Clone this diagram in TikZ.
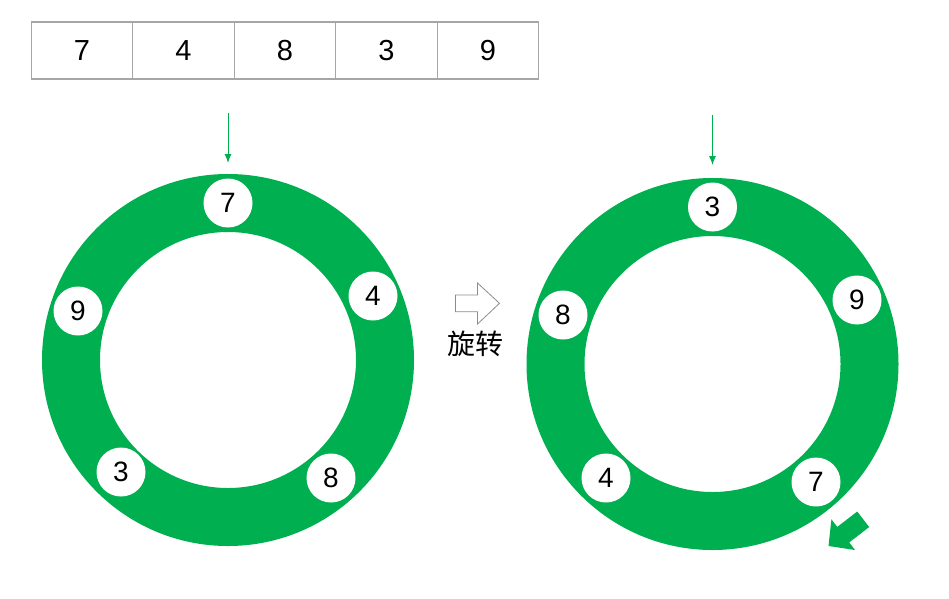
\documentclass[tikz,border=0pt]{standalone}
\usepackage{fontspec}
\setmainfont{Liberation Sans}
\newfontfamily\cjk{Noto Sans CJK SC}
\usepackage{tikz}
\usetikzlibrary{arrows.meta}
\usepackage{xcolor}
\definecolor{ringgreen}{HTML}{00B050}
\definecolor{cellgray}{HTML}{A6A6A6}
\definecolor{arrowgray}{HTML}{8C8C8C}

\tikzset{
  cell/.style={draw=cellgray, line width=1.2pt, minimum width=101.5pt, minimum height=57pt,
    inner sep=0pt, font=\fontsize{29}{29}\selectfont},
  slot/.style={circle, fill=white, minimum size=49pt, inner sep=0pt,
    font=\fontsize{28}{28}\selectfont},
  pointer/.style={ringgreen, line width=1pt, -{Latex[length=9pt,width=7pt]}}
}

\begin{document}
\begin{tikzpicture}[x=1pt,y=-1pt]
\useasboundingbox (0,0) rectangle (949,598);

% array
\node [cell] (a1) at (82,50.5) {7};
\node [cell] (a2) at (183.5,50.5) {4};
\node [cell] (a3) at (285,50.5) {8};
\node [cell] (a4) at (386.5,50.5) {3};
\node [cell] (a5) at (488,50.5) {9};

% ring before
\fill [ringgreen, even odd rule] (228,360) circle (186) (228,360) circle (128);
\begin{scope}[shift={(228,360)}]
\node [slot] (l7) at (0,-157) {7};
\node [slot] (l4) at (145,-64) {4};
\node [slot] (l9) at (-150,-49) {9};
\node [slot] (l3) at (-107,112) {3};
\node [slot] (l8) at (103,118) {8};
\end{scope}
\coordinate (pl0) at (228,113);
\coordinate (pl1) at (228,163);
\draw [pointer] (pl0) -- (pl1);

% rotate sign
\draw [arrowgray, fill=white, line width=0.8pt] (455.5,295) -- (477.5,295) -- (477.5,283)
  -- (499.5,303.3) -- (477.5,324) -- (477.5,311.7) -- (455.5,311.7) -- cycle;
\node [font=\cjk\fontsize{28}{28}\selectfont] (rot) at (475,344) {旋转};

% ring after
\fill [ringgreen, even odd rule] (712.5,364) circle (186) (712.5,364) circle (128);
\begin{scope}[shift={(712.5,364)}]
\node [slot] (r3) at (0,-157) {3};
\node [slot] (r9) at (144.5,-64) {9};
\node [slot] (r8) at (-149.5,-49) {8};
\node [slot] (r4) at (-106.5,114) {4};
\node [slot] (r7) at (103.5,118) {7};
\end{scope}
\coordinate (pr0) at (712.5,115);
\coordinate (pr1) at (712.5,165);
\draw [pointer] (pr0) -- (pr1);

% turn direction
\begin{scope}[shift={(828.5,546)}, rotate=37.6]
\fill [ringgreen] (0,0) -- (18.6,-19.4) -- (18.6,-9.8) -- (43.8,-9.8) -- (43.8,9.8)
  -- (18.6,9.8) -- (18.6,19.4) -- cycle;
\end{scope}

\end{tikzpicture}
\end{document}
